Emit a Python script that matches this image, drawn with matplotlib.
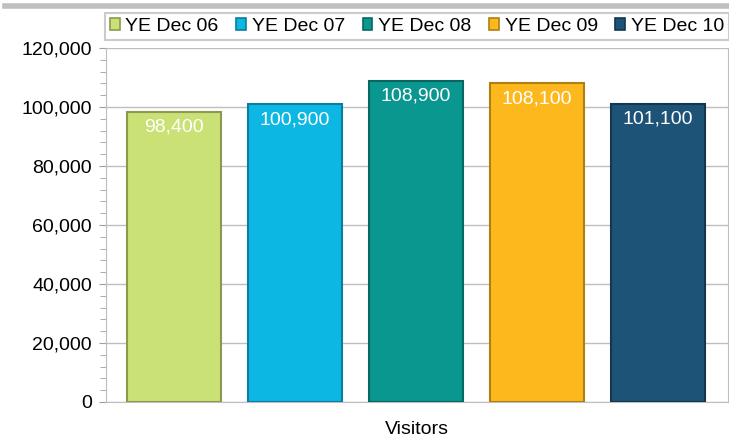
import matplotlib.pyplot as plt
from matplotlib.lines import Line2D
from matplotlib.patches import Patch
from matplotlib.ticker import MultipleLocator, FuncFormatter

plt.rcParams['font.family'] = ['Liberation Sans', 'DejaVu Sans']

periods = ["YE Dec 06", "YE Dec 07", "YE Dec 08", "YE Dec 09", "YE Dec 10"]
visitors = [98400, 100900, 108900, 108100, 101100]
colors = ["#C9E175", "#0CB8E3", "#0A978F", "#FDB81E", "#1E5378"]
edges = ["#8A9A4E", "#0A7E9C", "#076862", "#B07F14", "#13374F"]

fig = plt.figure(figsize=(7.29, 4.37), dpi=100)
ax = fig.add_axes([106 / 729, 1 - 402 / 437, 622 / 729, 354 / 437])

x = list(range(len(visitors)))
bars = ax.bar(x, visitors, width=0.78, color=colors, edgecolor=edges,
              linewidth=1.5, zorder=3)

for xi, v in zip(x, visitors):
    ax.annotate(f"{v:,}", (xi, v), xytext=(0, -5), textcoords="offset points",
                ha="center", va="top", color="white", fontsize=14, zorder=4)

ax.set_xlim(-0.56, 4.58)
ax.set_ylim(0, 120000)
ax.yaxis.set_major_locator(MultipleLocator(20000))
ax.yaxis.set_minor_locator(MultipleLocator(4000))
ax.yaxis.set_major_formatter(FuncFormatter(lambda v, p: f"{int(v):,}"))
ax.tick_params(axis='y', which='both', direction='out', color='#A0A0A0',
               labelsize=14, pad=5)
ax.tick_params(axis='y', which='major', length=5)
ax.tick_params(axis='y', which='minor', length=4)
ax.set_xticks([])
ax.grid(axis='y', color='#BEBEBE', linewidth=1, zorder=0)
for s in ['left', 'bottom', 'right']:
    ax.spines[s].set_color('#BEBEBE')
ax.spines['top'].set_visible(False)

ax.set_xlabel("Visitors", fontsize=14, labelpad=14)

handles = [Patch(facecolor=c, edgecolor=e, linewidth=1.2) for c, e in zip(colors, edges)]
leg = fig.legend(handles, periods, loc='upper left', ncol=5,
                 bbox_to_anchor=(105 / 729, 1 - 41 / 437, 624 / 729, 28 / 437),
                 mode='expand', fontsize=14, frameon=True, fancybox=False,
                 handlelength=0.5, handleheight=0.5, handletextpad=0.3,
                 columnspacing=0.5, borderpad=0.25, borderaxespad=0)
leg.get_frame().set_edgecolor('#BEBEBE')
leg.get_frame().set_linewidth(1.5)

fig.add_artist(Line2D([5 / 729, 1], [1 - 6 / 437, 1 - 6 / 437],
                      color='#BFBFBF', linewidth=4, transform=fig.transFigure))

fig.savefig("out.png", dpi=100)
